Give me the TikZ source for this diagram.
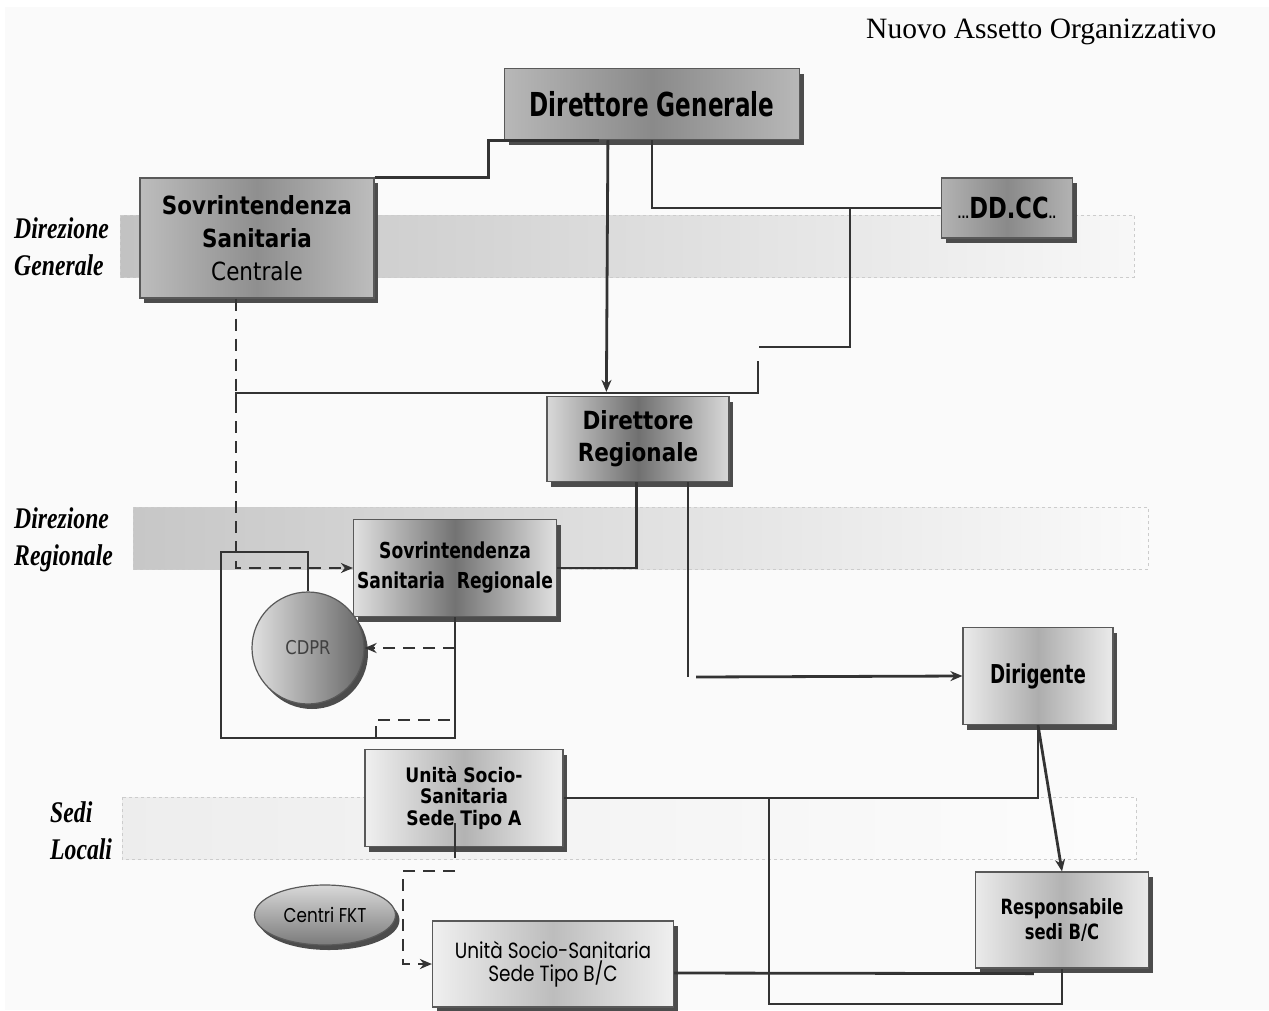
\documentclass[tikz,border=0pt]{standalone}
\usepackage{fontspec}
\usetikzlibrary{calc,shadows,arrows.meta,shapes}
\newfontfamily\boxfont[FakeStretch=0.86]{DejaVu Sans}
\newfontfamily\narrowfont[FakeStretch=0.78]{DejaVu Sans}
\newfontfamily\tightfont[FakeStretch=0.70]{DejaVu Sans}
\newfontfamily\roundfont[FakeStretch=0.84]{Poppins}
\newfontfamily\levelfont[FakeStretch=0.79]{Liberation Serif}
\newfontfamily\titlefont{Liberation Serif}

\begin{document}
\begin{tikzpicture}[x=1pt,y=-1pt]
\colorlet{wire}{black!80} \colorlet{frame}{black!65}
\tikzset{
  box/.style={draw=frame,line width=1.2pt,inner sep=0pt,align=center,
    drop shadow={shadow xshift=4pt,shadow yshift=-5pt,fill=black!70,opacity=1}},
  tone/.style 2 args={left color=#1,right color=#1,middle color=#2},
  link/.style={draw=wire,line width=2.8pt},
  thin link/.style={draw=wire,line width=1.6pt},
  dash link/.style={link,dash pattern=on 12pt off 8pt},
  tip/.style={-{Stealth[length=12pt,width=10pt]}},
  band/.style={draw=black!20,dashed,line width=0.8pt},
  level/.style={anchor=west,align=left,inner sep=0pt,
    font=\levelfont\bfseries\itshape\fontsize{30}{37}\selectfont}
}
\useasboundingbox (0,0) rectangle (1269,1010);
\fill[white] (0,0) rectangle (1269,1010);
\fill[black!2] (5,7) rectangle (1269,1010);

\node[anchor=base west,inner sep=0pt,font=\titlefont\fontsize{29.5}{34}\selectfont]
  (title) at (866,38) {Nuovo Assetto Organizzativo};

% levels
\foreach \xa/\ya/\xb/\yb/\l/\r in {120/215/1134/277/24/3,133/507/1148/569/22/2,122/797/1136/859/7/1}
  \draw[band,left color=black!\l,right color=black!\r] (\xa,\ya) rectangle (\xb,\yb);
\node[level] (lvg) at (14,247) {Direzione\\Generale};
\node[level] (lvr) at (14,540) {Direzione\\Regionale};
\node[level] (lvl) at (50,831) {Sedi\\Locali};

% boxes
\node[box,tone={black!28}{black!46},minimum width=295pt,minimum height=71pt,
  font=\tightfont\bfseries\fontsize{33}{36}\selectfont] (dg) at (652,104) {Direttore Generale};
\node[box,tone={black!26}{black!44},minimum width=234pt,minimum height=120pt,
  font=\boxfont\fontsize{25}{33}\selectfont] (ssc) at (257,238)
  {\textbf{Sovrintendenza}\\\textbf{Sanitaria}\\Centrale};
\node[box,tone={black!30}{black!46},minimum width=131pt,minimum height=60pt,
  font=\narrowfont\bfseries\fontsize{29}{32}\selectfont] (ddcc) at (1007,208)
  {{\fontsize{13}{13}\selectfont...}DD.CC{\fontsize{13}{13}\selectfont..}};
\node[box,tone={black!15}{black!56},minimum width=182pt,minimum height=85pt,
  font=\boxfont\bfseries\fontsize{25}{32}\selectfont] (dr) at (638,439) {Direttore\\Regionale};
\node[box,tone={black!12}{black!55},minimum width=203pt,minimum height=97pt,
  font=\narrowfont\bfseries\fontsize{22}{30}\selectfont] (ssr) at (455,568)
  {Sovrintendenza\\Sanitaria~ Regionale};
\node[box,circle,left color=black!12,right color=black!60,minimum size=112pt,
  text=black!75,font=\boxfont\fontsize{19}{20}\selectfont] (cdpr) at (308,648) {CDPR};
\node[box,tone={black!8}{black!32},minimum width=150pt,minimum height=97pt,
  font=\tightfont\bfseries\fontsize{26}{30}\selectfont] (dir) at (1038,676) {Dirigente};
\node[box,tone={black!6}{black!30},minimum width=198pt,minimum height=97pt,
  font=\boxfont\bfseries\fontsize{20}{21.5}\selectfont] (ussa) at (464,798)
  {Unità Socio-\\Sanitaria\\Sede Tipo A};
\node[box,tone={black!8}{black!30},minimum width=173pt,minimum height=96pt,
  font=\narrowfont\bfseries\fontsize{21}{25}\selectfont] (resp) at (1062,920)
  {Responsabile\\sedi B/C};
\node[box,tone={black!6}{black!26},minimum width=241pt,minimum height=86pt,
  font=\roundfont\fontsize{22}{23}\selectfont] (ussbc) at (553,964)
  {Unità Socio-Sanitaria\\Sede Tipo B/C};
\node[box,ellipse,top color=black!15,bottom color=black!52,minimum width=141pt,
  minimum height=60pt,font=\roundfont\fontsize{20}{22}\selectfont] (fkt) at (325,915) {Centri FKT};

\coordinate (jdd) at (850,208);  \coordinate (jcut) at (759,347);
\coordinate (jbar) at (758,361); \coordinate (jleft) at (236,393);
\coordinate (jdir) at (688,677); \coordinate (jloc) at (769,798);
\coordinate (jbot) at (769,1004); \coordinate (jfkt) at (455,871);
\coordinate (bkt) at (221,552);  \coordinate (bkb) at (455,738);

% connectors
\draw[link] (ssc.north east) -- ++(114,0) |- ($(dg.south west)+(95,0)$);
\draw[link,tip] ($(dg.south west)+(104,0)$) -- ($(dr.north west)+(60,-4)$);
\draw[link] (dg.south) |- (ddcc.west);
\draw[link] (jdd) |- (jcut);
\draw[link] (jbar) |- (jleft) -- ++(0,8);
\draw[dash link] (ssc.south -| jleft) -- (jleft);
\draw[dash link,tip] ($(jleft)+(0,8)$) |- (ssr.west);
\draw[link] ($(dr.south west)+(90,0)$) |- (ssr.east);
\draw[thin link] (dr.south -| jdir) -- (jdir);
\draw[link,tip] ($(jdir)+(8,0)$) -- (dir.west);

\draw[link] (cdpr.north) |- (bkt) |- (bkb) -- (bkb |- ssr.south);
\draw[dash link,tip] (bkb |- cdpr.east) -- (cdpr.east);
\draw[dash link] ($(bkb)+(-77,-18)$) -- ($(bkb)+(0,-18)$);
\draw[link] ($(bkb)+(-79,0)$) -- ++(0,-12);

\draw[link] (dir.south) |- (ussa.east);
\draw[link,tip] (dir.south) -- (resp.north);
\draw[link] (jloc) -- (jbot) -| (resp.south);
\draw[link] ($(ussbc.east)+(0,9)$) -- ($(resp.south west)+(59,5)$);
\draw[link] (ussa.south -| jfkt) ++(0,-24) -- ++(0,35);
\draw[dash link,tip] (jfkt) -- ++(-52,0) |- (ussbc.west);
\end{tikzpicture}
\end{document}
